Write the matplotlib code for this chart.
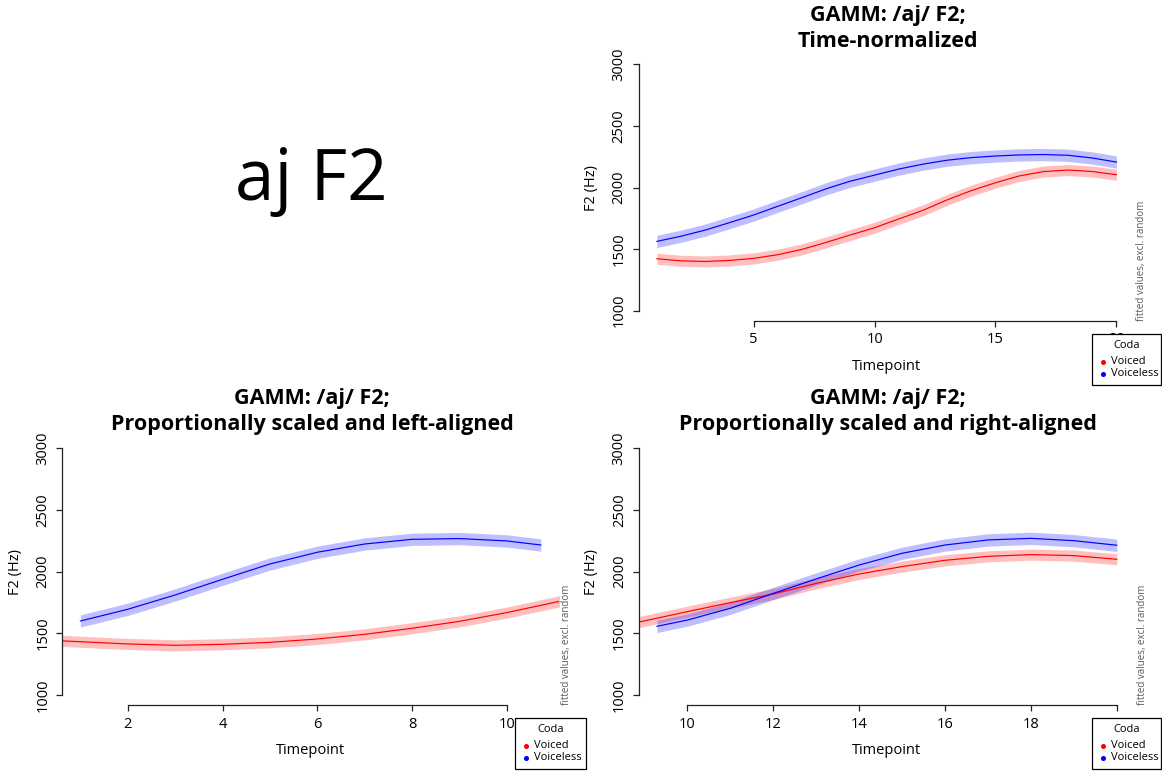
import matplotlib
matplotlib.use("Agg")
import matplotlib.pyplot as plt
from matplotlib.patches import Rectangle
from matplotlib.lines import Line2D

plt.rcParams['font.family'] = ['Open Sans', 'DejaVu Sans']

W, H = 1162, 771

# ---------------- data ----------------
# Time-normalized
tn_time = [1, 2, 3, 4, 5, 6, 7, 8, 9, 10, 11, 12, 13, 14, 15, 16, 17, 18, 19, 20]
tn_voiced = [1422, 1405, 1400, 1408, 1425, 1455, 1498, 1555, 1615, 1674,
             1745, 1815, 1900, 1975, 2039, 2095, 2130, 2142, 2130, 2104]
tn_voiceless = [1563, 1605, 1655, 1715, 1777, 1848, 1918, 1990, 2052, 2101,
                2150, 2190, 2222, 2243, 2256, 2265, 2268, 2262, 2240, 2207]

# Proportionally scaled, left-aligned
la_time_voiced = [0.5, 1, 2, 3, 4, 5, 6, 7, 8, 9, 10, 11, 11.3]
la_voiced = [1441, 1432, 1414, 1403, 1411, 1427, 1454, 1492, 1541, 1597, 1668, 1750, 1775]
la_time_voiceless = [1, 2, 3, 4, 5, 6, 7, 8, 9, 10, 10.72]
la_voiceless = [1600, 1695, 1811, 1938, 2062, 2157, 2224, 2262, 2268, 2249, 2216]

# Proportionally scaled, right-aligned
ra_time_voiced = [8.5, 9, 10, 11, 12, 13, 14, 15, 16, 17, 18, 19, 20]
ra_voiced = [1565, 1601, 1676, 1749, 1819, 1905, 1981, 2041, 2092, 2124, 2138, 2130, 2100]
ra_time_voiceless = [9.29, 10, 11, 12, 13, 14, 15, 16, 17, 18, 19, 20]
ra_voiceless = [1557, 1608, 1703, 1824, 1941, 2054, 2149, 2216, 2257, 2270, 2251, 2214]

ci_voiced = 45
ci_voiceless = 50

tn_xticks = [5, 10, 15, 20]
la_xticks = [2, 4, 6, 8, 10]
ra_xticks = [10, 12, 14, 16, 18, 20]
yticks = [1000, 1500, 2000, 2500, 3000]

legend_title = "Coda"
legend_labels = ["Voiced", "Voiceless"]
series_colors = ["red", "blue"]

# ---------------- helpers ----------------
def rect(left, right, top, bottom):
    return [left / W, 1 - bottom / H, (right - left) / W, (bottom - top) / H]

def fx(px):
    return px / W

def fy(py):
    return 1 - py / H

fig = plt.figure(figsize=(W / 100, H / 100), dpi=100)


def draw_panel(ax, xlim, xticks, series, title, title_x, title_y, leg_box):
    ax.set_xlim(*xlim)
    ax.set_ylim(920, 3080)
    for (x, y, ci, col) in series:
        lo = [v - ci for v in y]
        hi = [v + ci for v in y]
        ax.fill_between(x, lo, hi, color=col, alpha=0.25, lw=0)
    for (x, y, ci, col) in series:
        ax.plot(x, y, color=col, lw=0.85)
    ax.spines['top'].set_visible(False)
    ax.spines['right'].set_visible(False)
    ax.spines['left'].set_bounds(yticks[0], yticks[-1])
    ax.spines['bottom'].set_bounds(xticks[0], xticks[-1])
    for s in ('left', 'bottom'):
        ax.spines[s].set_linewidth(0.9)
        ax.spines[s].set_color('#222222')
    ax.set_xticks(xticks)
    ax.set_yticks(yticks)
    ax.tick_params(axis='both', direction='out', length=4.5, width=0.9,
                   color='#222222', labelsize=10.5, pad=4)
    ax.tick_params(axis='y', labelrotation=90, pad=4)
    for lab in ax.get_yticklabels():
        lab.set_va('center')
    ax.set_xlabel("Timepoint", fontsize=10.5, labelpad=8)
    ax.set_ylabel("F2 (Hz)", fontsize=10.5, labelpad=9)
    ax.patch.set_visible(False)
    # side note
    ax.text(1.0 + 7 / (ax.get_position().width * W), 0.0,
            "fitted values, excl. random", transform=ax.transAxes,
            rotation=90, ha='center', va='bottom', fontsize=7,
            color='#595959', clip_on=False)
    # title
    fig.text(fx(title_x), fy(title_y), title, ha='center', va='center',
             fontsize=15.5, fontweight='bold', linespacing=1.3)
    # legend (drawn outside the plot, covering part of the axis)
    bl, bt, bw, bh = leg_box
    fig.patches.append(Rectangle((fx(bl), fy(bt + bh)), bw / W, bh / H,
                                 transform=fig.transFigure, facecolor='white',
                                 edgecolor='black', lw=0.9, zorder=5))
    fig.text(fx(bl + bw / 2), fy(bt + 11), legend_title, ha='center', va='center',
             fontsize=8, zorder=6)
    for i, (lab, col) in enumerate(zip(legend_labels, series_colors)):
        yy = bt + 27.5 + i * 12.3
        fig.add_artist(Line2D([fx(bl + 11)], [fy(yy)], marker='o', markersize=2.6,
                              color=col, linestyle='none', transform=fig.transFigure,
                              zorder=6))
        fig.text(fx(bl + 19), fy(yy), lab, ha='left', va='center', fontsize=8, zorder=6)


# top-left: label panel
fig.text(fx(311), fy(181), "aj F2", ha='center', va='center', fontsize=51)

ax1 = fig.add_axes(rect(638.5, 1134.8, 54.5, 320.6))
draw_panel(ax1, (0.24, 20.76), tn_xticks,
           [(tn_time, tn_voiced, ci_voiced, series_colors[0]),
            (tn_time, tn_voiceless, ci_voiceless, series_colors[1])],
           "GAMM: /aj/ F2;\nTime-normalized", 888, 28.5, (1092, 334, 69, 51))

ax2 = fig.add_axes(rect(62.0, 559.2, 438.4, 704.9))
draw_panel(ax2, (0.6112, 11.1088), la_xticks,
           [(la_time_voiced, la_voiced, ci_voiced, series_colors[0]),
            (la_time_voiceless, la_voiceless, ci_voiceless, series_colors[1])],
           "GAMM: /aj/ F2;\nProportionally scaled and left-aligned", 312, 411.5,
           (515, 718, 71, 51))

ax3 = fig.add_axes(rect(638.6, 1135.2, 438.4, 704.9))
draw_panel(ax3, (8.8616, 20.4284), ra_xticks,
           [(ra_time_voiced, ra_voiced, ci_voiced, series_colors[0]),
            (ra_time_voiceless, ra_voiceless, ci_voiceless, series_colors[1])],
           "GAMM: /aj/ F2;\nProportionally scaled and right-aligned", 888, 411.5,
           (1092, 718, 69, 51))

fig.savefig("out.png", dpi=100)
